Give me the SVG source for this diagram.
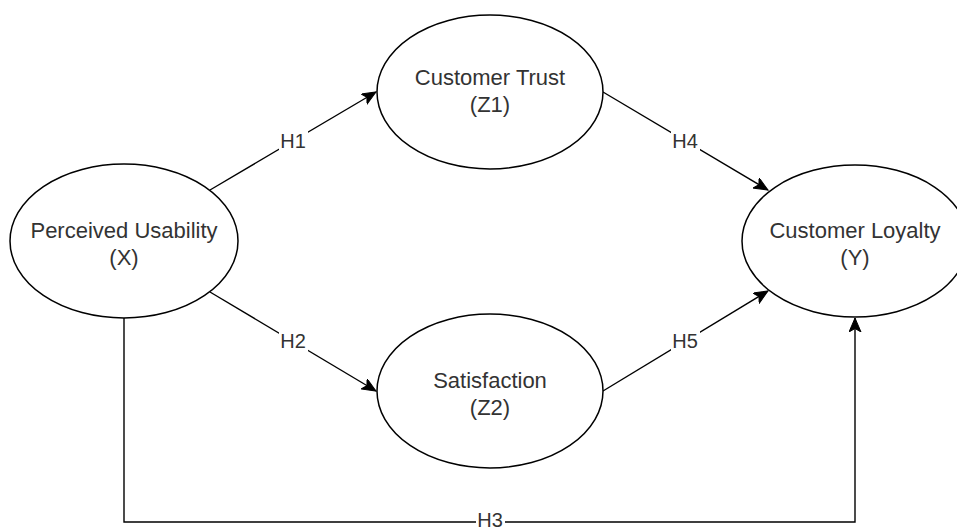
<svg xmlns="http://www.w3.org/2000/svg" width="957" height="530" viewBox="0 0 957 530">
  <style>
    .node { fill: #ffffff; stroke: #000000; stroke-width: 1.5; }
    .lbl { font-family: "Liberation Sans", Arial, sans-serif; font-size: 22px; fill: #333333; text-anchor: middle; }
    .elbl { font-family: "Liberation Sans", Arial, sans-serif; font-size: 20px; fill: #333333; text-anchor: middle; }
    .edge { fill: none; stroke: #000000; stroke-width: 1.4; }
    .lblbg { fill: #ffffff; }
  </style>
  <defs>
    <marker id="arrow" markerUnits="userSpaceOnUse" markerWidth="16" markerHeight="14" refX="14" refY="6" orient="auto">
      <path d="M0,0 L14,6 L0,12 L3.5,6 Z" fill="#000000" stroke="#000000" stroke-width="1"/>
    </marker>
  </defs>
  <rect x="0" y="0" width="957" height="530" fill="#ffffff"/>
  <g id="connectors">
    <g id="e-h1">
      <line class="edge" x1="210" y1="190" x2="376" y2="92" marker-end="url(#arrow)"/>
      <rect class="lblbg" x="279" y="131" width="29" height="21"/>
      <text class="elbl" x="293" y="148">H1</text>
    </g>
    <g id="e-h2">
      <line class="edge" x1="210" y1="292" x2="376" y2="391" marker-end="url(#arrow)"/>
      <rect class="lblbg" x="279" y="331" width="29" height="21"/>
      <text class="elbl" x="293" y="348">H2</text>
    </g>
    <g id="e-h4">
      <line class="edge" x1="603" y1="92" x2="768" y2="190" marker-end="url(#arrow)"/>
      <rect class="lblbg" x="671" y="131" width="29" height="21"/>
      <text class="elbl" x="685" y="148">H4</text>
    </g>
    <g id="e-h5">
      <line class="edge" x1="603" y1="391" x2="768" y2="291" marker-end="url(#arrow)"/>
      <rect class="lblbg" x="671" y="331" width="29" height="21"/>
      <text class="elbl" x="685" y="348">H5</text>
    </g>
    <g id="e-h3">
      <polyline class="edge" points="124,318 124,522 855,522 855,318" marker-end="url(#arrow)"/>
      <rect class="lblbg" x="476" y="512" width="29" height="18"/>
      <text class="elbl" x="490" y="527">H3</text>
    </g>
  </g>
  <g id="node-x">
    <ellipse class="node" cx="124" cy="241" rx="114" ry="77"/>
    <text class="lbl" x="124" y="238">Perceived Usability</text>
    <text class="lbl" x="124" y="265">(X)</text>
  </g>
  <g id="node-z1">
    <ellipse class="node" cx="490" cy="92" rx="113" ry="77"/>
    <text class="lbl" x="490" y="85">Customer Trust</text>
    <text class="lbl" x="490" y="112">(Z1)</text>
  </g>
  <g id="node-z2">
    <ellipse class="node" cx="490" cy="391" rx="113" ry="77"/>
    <text class="lbl" x="490" y="388">Satisfaction</text>
    <text class="lbl" x="490" y="415">(Z2)</text>
  </g>
  <g id="node-y">
    <ellipse class="node" cx="855" cy="241" rx="113" ry="76"/>
    <text class="lbl" x="855" y="238">Customer Loyalty</text>
    <text class="lbl" x="855" y="265">(Y)</text>
  </g>
</svg>
